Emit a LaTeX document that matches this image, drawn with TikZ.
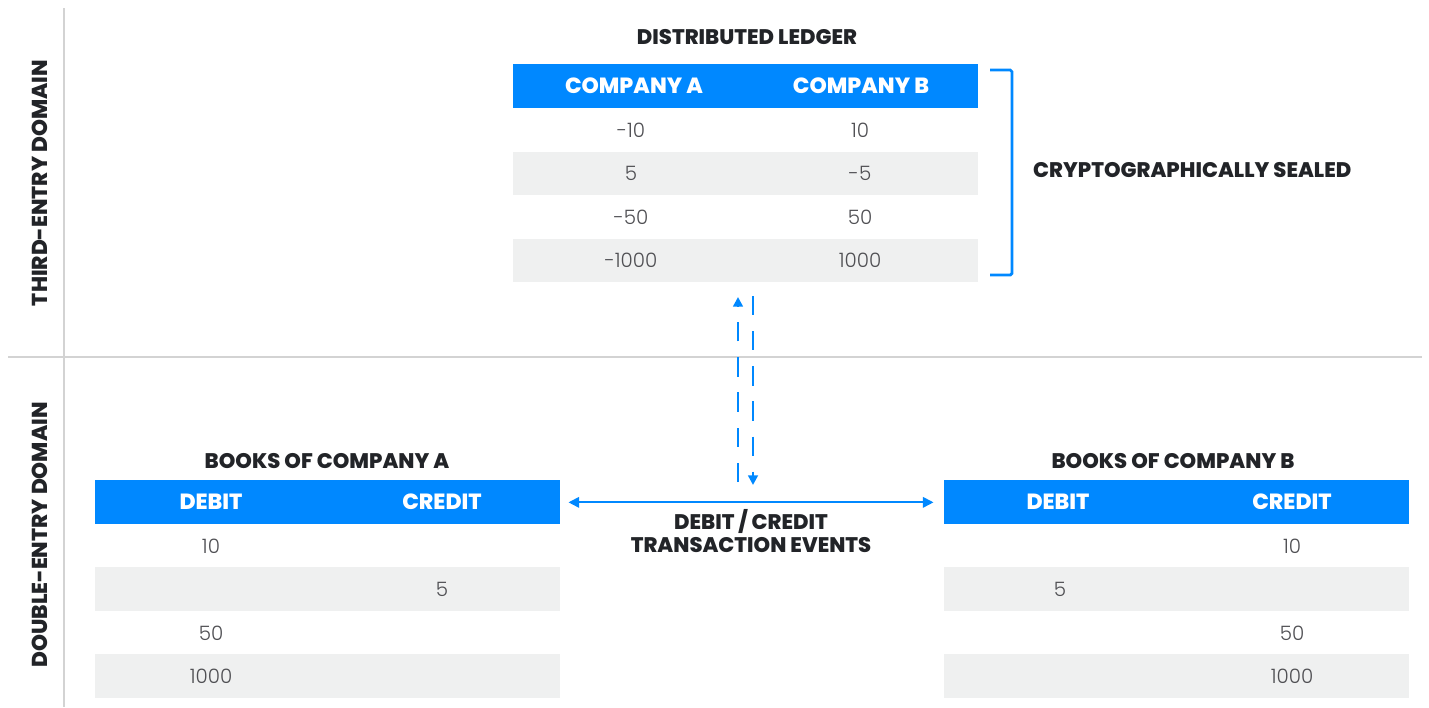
\documentclass[tikz,border=0pt]{standalone}
\usepackage{fontspec}
\setmainfont{Poppins}
\newfontfamily\numfont{Poppins Light}
\newfontfamily\heavyfont{Poppins ExtraBold}
\usetikzlibrary{positioning,arrows.meta}

\definecolor{ledgerblue}{RGB}{0,136,255}
\definecolor{rowgray}{RGB}{239,240,240}
\definecolor{textdark}{RGB}{34,36,40}
\definecolor{numgray}{RGB}{80,80,84}
\definecolor{rulegray}{RGB}{211,211,211}

\tikzset{
  headrow/.style={fill=ledgerblue, minimum width=9.3cm, minimum height=0.88cm, inner sep=0pt},
  tablerow/.style={minimum width=9.3cm, minimum height=0.87cm, inner sep=0pt},
  headtext/.style={text=white, font=\heavyfont\fontsize{12.5}{14}\selectfont},
  titletext/.style={text=textdark, font=\heavyfont\fontsize{12}{14.5}\selectfont},
  sidetext/.style={text=textdark, font=\heavyfont\fontsize{12.3}{14}\selectfont, rotate=90},
  numtext/.style={text=numgray, font=\numfont\fontsize{11.3}{13}\selectfont},
  flowarrow/.style={ledgerblue, line width=1.4pt, dash pattern=on 11pt off 9pt, -{Triangle[width=5.5pt,length=5.5pt]}}
}

\begin{document}
\begin{tikzpicture}[x=0.02cm, y=-0.02cm]
\useasboundingbox (0,0) rectangle (1429,707);
% domain rules
\draw[rulegray, line width=1.1pt] (64,8) -- (64,707);
\draw[rulegray, line width=1.1pt] (8,357) -- (1422,357);
\node[sidetext] (third) at (40,183) {THIRD-ENTRY DOMAIN};
\node[sidetext] (double) at (40,535) {DOUBLE-ENTRY DOMAIN};

% distributed ledger
\node[titletext] (dltitle) at (747,37) {DISTRIBUTED LEDGER};
\node[headrow, anchor=north west] (dl) at (513,64) {};
\node[headtext] (dlA) at (634,86) {COMPANY A};
\node[headtext] (dlB) at (861,86) {COMPANY B};
\foreach \c/\a/\b [count=\i] in {white/-10/10, rowgray/5/-5, white/-50/50, rowgray/-1000/1000} {
  \node[tablerow, fill=\c, anchor=north west] (dl\i) at (513,{108+43.5*(\i-1)}) {};
  \node[numtext] (dla\i) at (631,{130+43.5*(\i-1)}) {\a};
  \node[numtext] (dlb\i) at (860,{130+43.5*(\i-1)}) {\b};
}
\draw[ledgerblue, line width=1.6pt, rounded corners=1pt] (990,70) -| (1012,275) -- (990,275);
\node[titletext, anchor=west] (sealed) at (1027,170) {CRYPTOGRAPHICALLY SEALED};

% books of company A
\node[titletext] (bkAtitle) at (327,461) {BOOKS OF COMPANY A};
\node[headrow, anchor=north west] (bkA) at (95,480) {};
\node[headtext] (bkAdeb) at (211,502) {DEBIT};
\node[headtext] (bkAcre) at (442,502) {CREDIT};
\foreach \c/\a/\b [count=\i] in {white/10/, rowgray//5, white/50/, rowgray/1000/} {
  \node[tablerow, fill=\c, anchor=north west] (bkA\i) at (95,{523.5+43.5*(\i-1)}) {};
  \node[numtext] (bkAa\i) at (211,{546+43.5*(\i-1)}) {\a};
  \node[numtext] (bkAb\i) at (442,{546+43.5*(\i-1)}) {\b};
}

% books of company B
\node[titletext] (bkBtitle) at (1173,461) {BOOKS OF COMPANY B};
\node[headrow, anchor=north west] (bkB) at (944,480) {};
\node[headtext] (bkBdeb) at (1058,502) {DEBIT};
\node[headtext] (bkBcre) at (1292,502) {CREDIT};
\foreach \c/\a/\b [count=\i] in {white//10, rowgray/5/, white//50, rowgray//1000} {
  \node[tablerow, fill=\c, anchor=north west] (bkB\i) at (944,{523.5+43.5*(\i-1)}) {};
  \node[numtext] (bkBa\i) at (1060,{546+43.5*(\i-1)}) {\a};
  \node[numtext] (bkBb\i) at (1292,{546+43.5*(\i-1)}) {\b};
}

% transaction events
\draw[ledgerblue, line width=1pt, {Triangle[width=6pt,length=6pt]}-{Triangle[width=6pt,length=6pt]}, shorten <=4.5pt, shorten >=6pt] (bkA.east) -- (bkB.west);
\node[titletext, align=center] (events) at (751,531) {DEBIT / CREDIT\\[-1pt]TRANSACTION EVENTS};
\coordinate (upfrom) at (738,482);
\coordinate (upto) at (738,297);
\coordinate (downfrom) at (753,296);
\coordinate (downto) at (753,485);
\draw[flowarrow] (upfrom) -- (upto);
\draw[flowarrow] (downfrom) -- (downto);
\end{tikzpicture}
\end{document}
